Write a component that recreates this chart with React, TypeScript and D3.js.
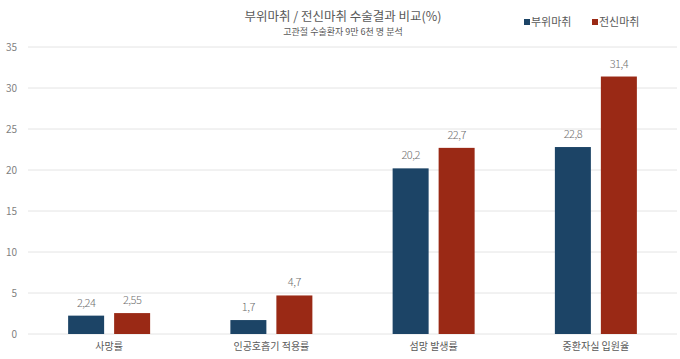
import React, { useEffect, useRef } from 'react';
import * as d3 from 'd3';

const categories = ['사망률', '인공호흡기 적용률', '섬망 발생률', '중환자실 입원율'];
const seriesNames = ['부위마취', '전신마취'];
const regional = [2.24, 1.7, 20.2, 22.8];
const general = [2.55, 4.7, 22.7, 31.4];
const valueLabels = [
  ['2,24', '1,7', '20,2', '22,8'],
  ['2,55', '4,7', '22,7', '31,4'],
];
const yTicks = [0, 5, 10, 15, 20, 25, 30, 35];
const colors = ['#1c4466', '#9a2915'];

const W = 680;
const H = 359;
const FONT = '"Noto Sans CJK KR", "Noto Sans", sans-serif';

export default function App() {
  const svgRef = useRef<SVGSVGElement>(null);

  useEffect(() => {
    const svg = d3.select(svgRef.current);
    svg.selectAll('*').remove();

    const margin = { top: 47, right: 3, bottom: 25, left: 28 };

    const x = d3
      .scaleBand()
      .domain(categories)
      .range([margin.left, W - margin.right]);

    const y = d3
      .scaleLinear()
      .domain([0, 35])
      .range([H - margin.bottom, margin.top]);

    const barW = 36;
    const gap = 10;

    // grid + y labels
    const grid = svg.append('g');
    grid
      .selectAll('line')
      .data(yTicks)
      .join('line')
      .attr('x1', margin.left)
      .attr('x2', W - margin.right)
      .attr('y1', d => y(d))
      .attr('y2', d => y(d))
      .attr('stroke', '#e4e4e4')
      .attr('stroke-width', 1);
    grid
      .selectAll('text')
      .data(yTicks)
      .join('text')
      .attr('x', 17)
      .attr('y', d => y(d))
      .attr('dy', '0.35em')
      .attr('text-anchor', 'end')
      .style('font-size', '10px')
      .style('font-family', FONT)
      .style('fill', '#7f7f7f')
      .text(d => d);

    const series = [regional, general];
    series.forEach((vals, si) => {
      const g = svg.append('g');
      const xPos = (i: number) => {
        const c = x(categories[i])! + x.bandwidth() / 2;
        return si === 0 ? c - gap / 2 - barW : c + gap / 2;
      };
      g.selectAll('rect')
        .data(vals)
        .join('rect')
        .attr('x', (_, i) => xPos(i))
        .attr('y', d => y(d))
        .attr('width', barW)
        .attr('height', d => y(0) - y(d))
        .attr('fill', colors[si]);
      g.selectAll('text')
        .data(vals)
        .join('text')
        .attr('x', (_, i) => xPos(i) + barW / 2)
        .attr('y', d => y(d) - 9)
        .attr('text-anchor', 'middle')
        .style('font-size', '11px')
        .style('font-family', FONT)
        .style('font-weight', 300)
        .style('fill', '#707070')
        .style('letter-spacing', '-0.5px')
        .text((_, i) => valueLabels[si][i]);
    });

    // x labels
    svg
      .append('g')
      .selectAll('text')
      .data(categories)
      .join('text')
      .attr('x', d => x(d)! + x.bandwidth() / 2)
      .attr('y', H - margin.bottom + 16)
      .attr('text-anchor', 'middle')
      .style('font-size', '10px')
      .style('font-family', FONT)
      .style('fill', '#595959')
      .text(d => d);

    // title
    svg
      .append('text')
      .attr('x', 343)
      .attr('y', 21)
      .attr('text-anchor', 'middle')
      .style('font-size', '12.5px')
      .style('font-family', FONT)
      .style('fill', '#595959')
      .text('부위마취 / 전신마취 수술결과 비교(%)');
    svg
      .append('text')
      .attr('x', 343)
      .attr('y', 35)
      .attr('text-anchor', 'middle')
      .style('font-size', '9px')
      .style('font-family', FONT)
      .style('fill', '#595959')
      .text('고관절 수술환자 9만 6천 명 분석');

    // legend
    const legendX = [524, 592];
    const legend = svg.append('g');
    seriesNames.forEach((name, i) => {
      legend
        .append('rect')
        .attr('x', legendX[i])
        .attr('y', 19)
        .attr('width', 6)
        .attr('height', 6)
        .attr('fill', colors[i]);
      legend
        .append('text')
        .attr('x', legendX[i] + 7)
        .attr('y', 26)
        .style('font-size', '11px')
        .style('font-family', FONT)
        .style('fill', '#595959')
        .text(name);
    });
  }, []);

  return (
    <div style={{ position: 'absolute', left: 0, top: 0, width: W, height: H, background: '#fff' }}>
      <svg ref={svgRef} width={W} height={H} />
    </div>
  );
}
